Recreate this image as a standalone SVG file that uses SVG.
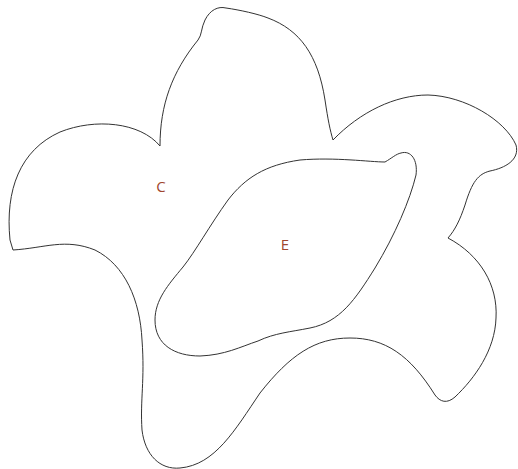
<svg xmlns="http://www.w3.org/2000/svg" width="518" height="469" viewBox="0 0 518 469">
<style>
.shape{fill:none;stroke:#333;stroke-width:1}
.lbl{font-family:"Open Sans","Noto Sans",sans-serif;font-size:15px;fill:#a0462d;text-anchor:middle}
</style>
<rect width="518" height="469" fill="#fff"/>
<g id="C">
<path class="shape" d="M160,146 C160,105 172,72 198,40 C202,35 201,28 205,20 C210,10 218,6 226,8 C240,10 258,14 268,18 C300,30 318,55 325,100 C328,120 330,130 333,140 C360,112 395,95 428,95 C465,96 505,120 516,145 C520,160 505,168 490,171 C478,174 472,182 465,205 C460,220 455,230 448,238 C480,255 498,285 496,318 C495,350 475,378 455,397 C447,404 440,402 435,395 C410,355 385,338 350,338 C315,338 290,355 260,393 C235,430 215,465 180,468 C160,470 145,455 142,430 C140,400 145,380 142,340 C140,300 125,265 95,250 C65,238 45,248 13,250 L10,240 C5,190 20,150 60,132 C95,118 140,122 160,146 Z"/>
<text class="lbl" x="161" y="191.5">C</text>
</g>
<g id="E">
<path class="shape" d="M401,153 C411,150 418,160 416,175 C410,200 395,235 375,268 C355,300 340,322 310,328 C290,332 275,333 258,341 C240,347 225,355 200,356 C175,356 155,345 155,320 C155,300 168,285 183,267 C195,252 210,225 228,200 C245,178 265,165 300,160 C335,157 370,162 385,162 C392,158 396,154 401,153 Z"/>
<text class="lbl" x="285" y="249.5">E</text>
</g>
</svg>
